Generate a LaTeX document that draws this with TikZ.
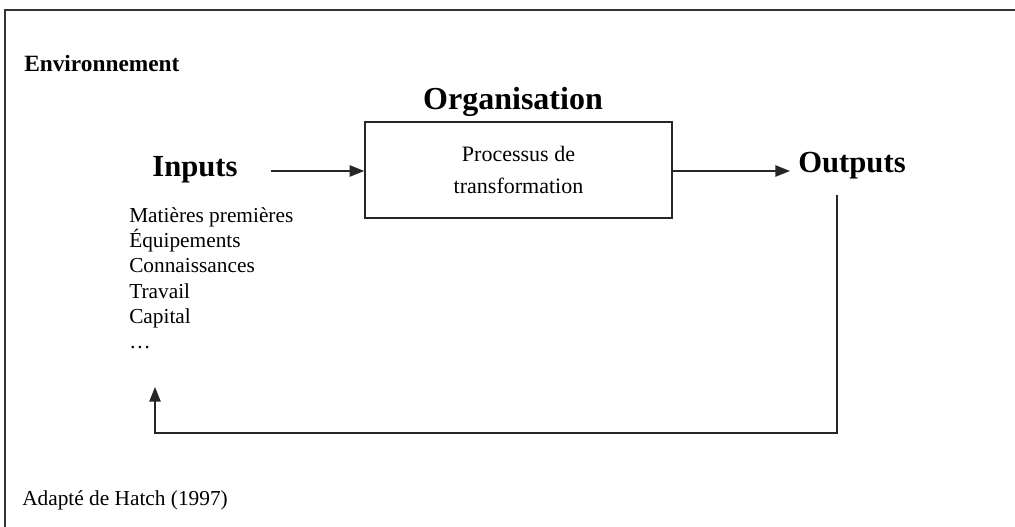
\documentclass[tikz,border=0pt]{standalone}
\usepackage{fontspec}
\setmainfont{Liberation Serif}
\usetikzlibrary{arrows.meta}
\begin{document}
\begin{tikzpicture}[x=0.75pt,y=-0.75pt,
  frameline/.style={line width=1.4pt, draw=black!80},
  conn/.style={line width=1.1pt, draw=black!85},
  arr/.style={conn, -{Triangle[length=11pt,width=8.5pt]}},
  biglabel/.style={font=\fontsize{23}{27}\selectfont\bfseries, inner sep=0pt},
  smalltext/.style={font=\fontsize{16}{19}\selectfont, inner sep=0pt, align=left},
  procbox/.style={draw=black!85, line width=1.1pt, minimum width=230.25pt, minimum height=72pt, inner sep=0pt,
    font=\fontsize{16.5}{24.5}\selectfont, align=center}]
  \useasboundingbox (0,0) rectangle (1015,527);
  % outer frame (top and left sides)
  \draw[frameline] (5,527) -- (5,10) -- (1015,10);

  \node[font=\fontsize{17.5}{20}\selectfont\bfseries, inner sep=0pt, anchor=west] (env) at (24,64) {Environnement};
  \node[font=\fontsize{24}{28}\selectfont\bfseries, inner sep=0pt] (org) at (513,102) {Organisation};

  \node[procbox] (proc) at (518.5,170) {Processus de\\transformation};

  \node[biglabel] (in) at (195,170) {Inputs};
  \node[biglabel] (out) at (852,166) {Outputs};

  \node[smalltext, anchor=north west] (list) at (129,207)
    {Matières premières\\Équipements\\Connaissances\\Travail\\Capital\\\dots};

  \node[smalltext, anchor=west] (src) at (22,500) {Adapté de Hatch (1997)};

  \coordinate (inarrow) at (271,171);
  \coordinate (outarrow) at (790,171);
  \coordinate (fbtop) at (837,195);
  \coordinate (fbend) at (155,387);

  \draw[arr] (inarrow) -- (proc.west |- inarrow);
  \draw[arr] (proc.east |- outarrow) -- (outarrow);
  \draw[arr] (fbtop) -- (837,433) -- (155,433) -- (fbend);
\end{tikzpicture}
\end{document}
